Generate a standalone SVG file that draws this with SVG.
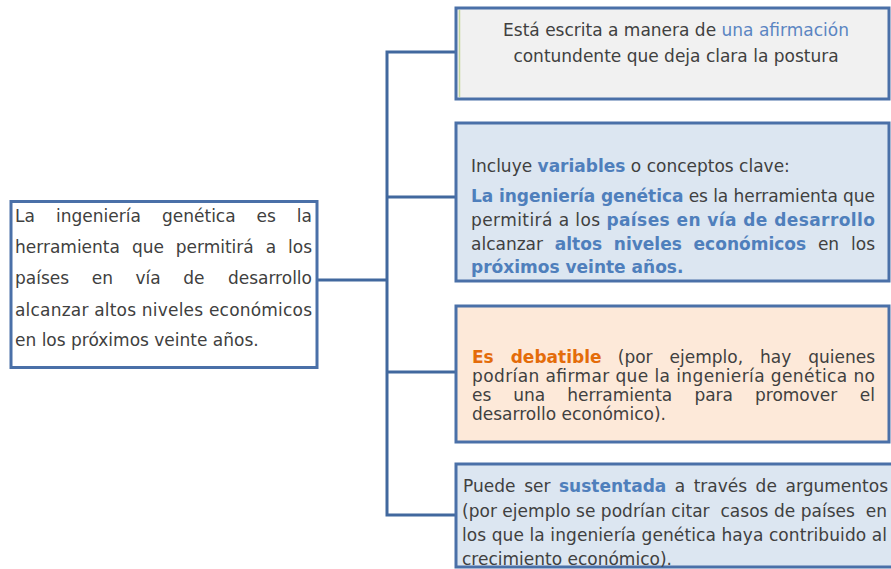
<svg xmlns="http://www.w3.org/2000/svg" width="891" height="569" viewBox="0 0 891 569">
<style>
.t{font-family:"DejaVu Sans",Verdana,sans-serif;font-size:17px;fill:#404040}
.b{font-weight:bold;fill:#4f7fbc}
.o{font-weight:bold;fill:#e46c0a}
.l{fill:#5b85c2}
.e{text-anchor:end}
.box{stroke:#4a70a8;stroke-width:3}
.con{fill:none;stroke:#41689e;stroke-width:3;stroke-linecap:square}
</style>
<rect width="891" height="569" fill="#ffffff"/>
<g id="connectors">
<path class="con" d="M318 280H387M387 52V515M387 52H456M387 197H456M387 372H456M387 515H456"/>
</g>
<g id="main">
<rect class="box" x="11" y="201.5" width="306" height="166" fill="#ffffff"/>
<text class="t" y="222"><tspan x="15">La</tspan><tspan x="56">ingeniería</tspan><tspan x="162">genética</tspan><tspan x="256.6">es</tspan></text>
<text class="t e" x="312" y="222">la</text>
<text class="t" y="253"><tspan x="15">herramienta</tspan><tspan x="131.9">que</tspan><tspan x="175.7">permitirá</tspan><tspan x="265.8">a</tspan></text>
<text class="t e" x="312" y="253">los</text>
<text class="t" y="284"><tspan x="15">países</tspan><tspan x="91.8">en</tspan><tspan x="135.5">vía</tspan><tspan x="183.3">de</tspan></text>
<text class="t e" x="312" y="284">desarrollo</text>
<text class="t" x="15" y="316" textLength="297" lengthAdjust="spacing">alcanzar altos niveles económicos</text>
<text class="t" x="15" y="346">en los próximos veinte años.</text>
</g>
<g id="n1">
<rect class="box" x="456" y="8" width="433" height="91" fill="#f1f1f1"/>
<line x1="459.5" y1="10" x2="459.5" y2="97" stroke="#c4d79b" stroke-width="1.5"/>
<text class="t" x="676" y="36" text-anchor="middle">Está escrita a manera de <tspan class="l">una afirmación</tspan></text>
<text class="t" x="676" y="62" text-anchor="middle">contundente que deja clara la postura</text>
</g>
<g id="n2">
<rect class="box" x="456" y="123" width="433" height="158" fill="#dce6f1"/>
<text class="t" x="471" y="172">Incluye <tspan class="b">variables</tspan> o conceptos clave:</text>
<text class="t" x="471" y="202" textLength="404" lengthAdjust="spacing"><tspan class="b">La ingeniería genética</tspan> es la herramienta que</text>
<text class="t" x="471" y="226" textLength="404" lengthAdjust="spacing">permitirá a los <tspan class="b">países en vía de desarrollo</tspan></text>
<text class="t" y="250"><tspan x="471">alcanzar</tspan><tspan class="b" x="554.8">altos</tspan><tspan class="b" x="613.8">niveles</tspan><tspan class="b" x="693.6">económicos</tspan><tspan x="817.9">en</tspan></text>
<text class="t e" x="875" y="250">los</text>
<text class="t b" x="471" y="273">próximos veinte años.</text>
</g>
<g id="n3">
<rect class="box" x="456" y="306" width="433" height="136" fill="#fde9d9"/>
<text class="t" y="363"><tspan class="o" x="472">Es</tspan><tspan class="o" x="510.7">debatible</tspan><tspan x="617.8">(por</tspan><tspan x="669.6">ejemplo,</tspan><tspan x="760.1">hay</tspan></text>
<text class="t e" x="875" y="363">quienes</text>
<text class="t" x="472" y="382" textLength="403" lengthAdjust="spacing">podrían afirmar que la ingeniería genética no</text>
<text class="t" y="401"><tspan x="472">es</tspan><tspan x="513.3">una</tspan><tspan x="567.3">herramienta</tspan><tspan x="694.4">para</tspan><tspan x="755">promover</tspan></text>
<text class="t e" x="875" y="401">el</text>
<text class="t" x="472" y="420">desarrollo económico).</text>
</g>
<g id="n4">
<rect class="box" x="456" y="464" width="445" height="103" fill="#dce6f1"/>
<text class="t" y="492"><tspan x="463">Puede</tspan><tspan x="524.2">ser</tspan><tspan class="b" x="559">sustentada</tspan><tspan x="674.8">a</tspan><tspan x="693.7">través</tspan><tspan x="755.6">de</tspan></text>
<text class="t e" x="888" y="492">argumentos</text>
<text class="t" x="462" y="517" textLength="425" lengthAdjust="spacing" xml:space="preserve">(por ejemplo se podrían citar  casos de países  en</text>
<text class="t" x="462" y="541" textLength="425" lengthAdjust="spacing">los que la ingeniería genética haya contribuido al</text>
<text class="t" x="462" y="565">crecimiento económico).</text>
</g>
</svg>
